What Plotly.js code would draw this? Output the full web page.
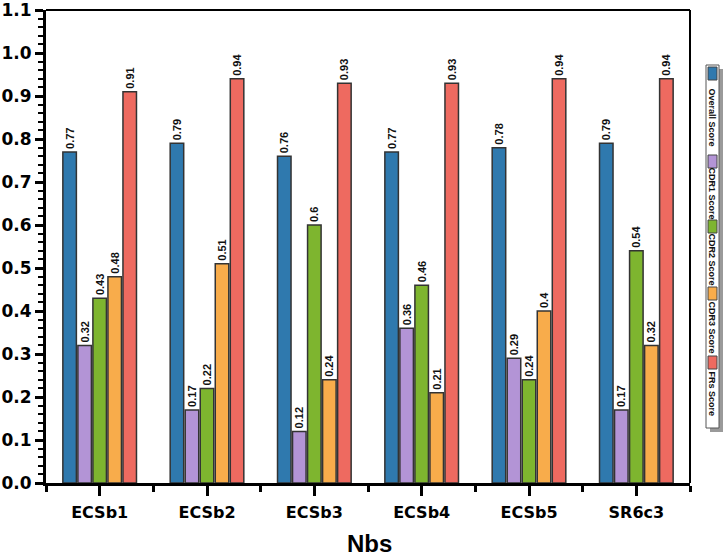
<!DOCTYPE html>
<html>
<head>
<meta charset="utf-8">
<script src="https://cdn.plot.ly/plotly-3.0.1.min.js"></script>
<style>
  body { margin: 0; background: #fff; }
  #myDiv { width: 726px; height: 560px; }
</style>
</head>
<body>
<div id="myDiv"></div>
<script>
var categories = ['ECSb1', 'ECSb2', 'ECSb3', 'ECSb4', 'ECSb5', 'SR6c3'];
var seriesNames = ['Overall Score', 'CDR1 Score', 'CDR2 Score', 'CDR3 Score', 'FRs Score'];
var overallScore = [0.77, 0.79, 0.76, 0.77, 0.78, 0.79];
var cdr1Score = [0.32, 0.17, 0.12, 0.36, 0.29, 0.17];
var cdr2Score = [0.43, 0.22, 0.6, 0.46, 0.24, 0.54];
var cdr3Score = [0.48, 0.51, 0.24, 0.21, 0.4, 0.32];
var frsScore = [0.91, 0.94, 0.93, 0.93, 0.94, 0.94];
var yTicks = [0, 0.1, 0.2, 0.3, 0.4, 0.5, 0.6, 0.7, 0.8, 0.9, 1.0, 1.1];
var xTitle = 'Nbs';

var colors = ['#2F79AE', '#B394D6', '#7EB52F', '#F8AC4B', '#EE6A60'];
var allSeries = [overallScore, cdr1Score, cdr2Score, cdr3Score, frsScore];

// plot area in pixels (used for the hand-made vertical legend)
var plotL = 46, plotR = 690, plotT = 10, plotB = 483;
function px2x(p) { return (p - plotL) / (plotR - plotL); }
function px2y(p) { return (plotB - p) / (plotB - plotT); }

var xIdx = categories.map(function (c, i) { return i; });
var boundaries = categories.map(function (c, i) { return i - 0.5; }).concat([categories.length - 0.5]);

var data = allSeries.map(function (vals, i) {
  return {
    type: 'bar',
    name: seriesNames[i],
    x: xIdx,
    y: vals,
    text: vals.map(function (v) { return String(v); }),
    textposition: 'outside',
    textangle: -90,
    constraintext: 'none',
    cliponaxis: false,
    textfont: { family: 'Liberation Sans, Arial', size: 11, color: '#111', weight: 'bold' },
    marker: { color: colors[i], line: { color: '#333', width: 1.5 } },
    showlegend: false,
    hoverinfo: 'x+y'
  };
});

// legend drawn by hand: box, shadow, swatches and rotated labels
var legendTop = [67, 155, 220, 287, 356];
var legendTextMid = [118, 194, 260, 328, 394];
var shapes = [
  { type: 'rect', xref: 'paper', yref: 'paper', x0: px2x(710), x1: px2x(723), y0: px2y(69), y1: px2y(432),
    fillcolor: '#9a9a9a', line: { width: 0 }, layer: 'below' },
  { type: 'rect', xref: 'paper', yref: 'paper', x0: px2x(706), x1: px2x(719), y0: px2y(65), y1: px2y(428),
    fillcolor: '#ffffff', line: { color: '#555', width: 1 } },
  // top and right frame lines
  { type: 'line', xref: 'paper', yref: 'paper', x0: 0, x1: 1, y0: 1, y1: 1, line: { color: '#000', width: 2 } },
  { type: 'line', xref: 'paper', yref: 'paper', x0: 1, x1: 1, y0: 0, y1: 1, line: { color: '#000', width: 2 } }
];
var annotations = [];
seriesNames.forEach(function (name, i) {
  shapes.push({
    type: 'rect', xref: 'paper', yref: 'paper',
    x0: px2x(708), x1: px2x(717), y0: px2y(legendTop[i]), y1: px2y(legendTop[i] + 13),
    fillcolor: colors[i], line: { color: '#444', width: 1 }
  });
  annotations.push({
    xref: 'paper', yref: 'paper', x: px2x(711.5), y: px2y(legendTextMid[i]),
    xanchor: 'center', yanchor: 'middle',
    text: name, showarrow: false, textangle: 90,
    font: { family: 'Liberation Sans, Arial', size: 9, color: '#111', weight: 'bold' }
  });
});

// x axis title as an annotation, placed lower than the margin allows for a title
annotations.push({
  xref: 'paper', yref: 'paper', x: px2x(369), y: px2y(543),
  xanchor: 'center', yanchor: 'middle',
  text: xTitle, showarrow: false,
  font: { family: 'Liberation Sans, Arial', size: 24, color: '#000', weight: 'bold' }
});

var layout = {
  width: 726,
  height: 560,
  margin: { l: plotL, r: 726 - plotR, t: plotT, b: 560 - plotB, pad: 0 },
  paper_bgcolor: '#ffffff',
  plot_bgcolor: '#ffffff',
  barmode: 'group',
  bargap: 0.3,
  bargroupgap: 0.1,
  font: { family: 'Liberation Sans, Arial', color: '#000' },
  xaxis: {
    range: [-0.5, 5.5],
    tickmode: 'array',
    tickvals: xIdx,
    ticktext: categories,
    ticks: 'outside',
    ticklen: 10,
    tickwidth: 2.5,
    tickcolor: '#000',
    ticklabelstandoff: 3,
    minor: { tickmode: 'array', tickvals: boundaries, ticks: 'outside', ticklen: 6, tickwidth: 2.5, tickcolor: '#000' },
    showline: true,
    linewidth: 3,
    linecolor: '#000',
    showgrid: false,
    zeroline: false,
    tickfont: { family: 'DejaVu Sans', size: 16, color: '#000', weight: 'bold' }
  },
  yaxis: {
    range: [0, 1.1002],
    tickmode: 'array',
    tickvals: yTicks,
    ticktext: yTicks.map(function (v) { return v.toFixed(1); }),
    ticks: 'outside',
    ticklen: 8,
    tickwidth: 2.5,
    tickcolor: '#000',
    ticklabeloverflow: 'allow',
    minor: { tickmode: 'linear', tick0: 0, dtick: 0.02, ticks: 'outside', ticklen: 5, tickwidth: 2, tickcolor: '#000' },
    showline: true,
    linewidth: 3,
    linecolor: '#000',
    showgrid: false,
    zeroline: false,
    tickfont: { family: 'DejaVu Sans', size: 17, color: '#000', weight: 'bold' }
  },
  shapes: shapes,
  annotations: annotations
};

Plotly.newPlot('myDiv', data, layout, { displayModeBar: false });
</script>
</body>
</html>
